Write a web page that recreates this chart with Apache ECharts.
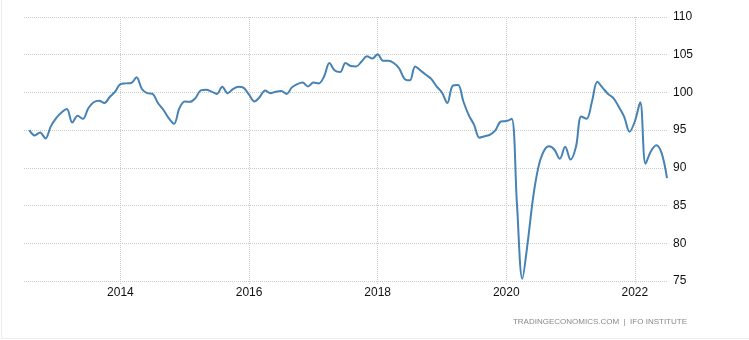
<!DOCTYPE html>
<html>
<head>
<meta charset="utf-8">
<script src="https://cdn.jsdelivr.net/npm/echarts@6/dist/echarts.min.js"></script>
<style>
html,body{margin:0;padding:0;background:#fff;}
#chart{width:749px;height:340px;}
</style>
</head>
<body>
<div id="chart"></div>
<script>
// Months from Jul 2012 to Jul 2022 (first month has no value)
var startYear = 2012, startMonth = 7, monthCount = 121;
var categories = [];
for (var i = 0; i < monthCount; i++) {
  var mm = startMonth - 1 + i;
  var y = startYear + Math.floor(mm / 12);
  var m = (mm % 12) + 1;
  categories.push(y + '-' + (m < 10 ? '0' + m : m));
}
var tickYears = ['2014', '2016', '2018', '2020', '2022'];
var yTicks = [75, 80, 85, 90, 95, 100, 105, 110];

var values2012 = [null, 95.0, 94.3, 94.7, 93.9, 95.5];
var values2013 = [96.6, 97.35, 97.8, 96.0, 96.9, 96.5, 97.9, 98.7, 98.9, 98.6, 99.4, 100.1];
var values2014 = [101.1, 101.2, 101.25, 102.0, 100.45, 99.9, 99.8, 98.6, 97.7, 96.6, 95.85, 97.9];
var values2015 = [98.8, 98.75, 99.25, 100.27, 100.35, 100.1, 99.8, 100.75, 99.9, 100.45, 100.75, 100.6];
var values2016 = [99.7, 98.8, 99.4, 100.27, 99.9, 100.1, 100.2, 99.8, 100.67, 101.1, 101.3, 100.8];
var values2017 = [101.3, 101.2, 102.1, 103.9, 102.9, 102.7, 103.9, 103.5, 103.45, 104.1, 104.8, 104.5];
var values2018 = [105.05, 104.2, 104.2, 103.9, 103.2, 101.8, 101.6, 103.45, 102.9, 102.35, 101.8, 100.8];
var values2019 = [100.0, 98.6, 100.9, 101.0, 98.8, 97.0, 95.7, 94.0, 94.2, 94.4, 95.0, 96.15];
var values2020 = [96.2, 96.5, 85.2, 75.3, 80.1, 86.0, 90.1, 92.2, 92.85, 92.4, 91.2, 92.8];
var values2021 = [91.1, 92.75, 96.8, 96.5, 98.8, 101.4, 100.6, 99.8, 99.25, 98.1, 96.8, 94.8];
var values2022 = [96.15, 98.7, 90.55, 92.2, 93.0, 91.95, 88.65];

var values = [].concat(values2012, values2013, values2014, values2015, values2016,
  values2017, values2018, values2019, values2020, values2021, values2022);

var sourceText = 'TRADINGECONOMICS.COM  |  IFO INSTITUTE';

function isTick(idx) {
  var c = categories[idx];
  return c.slice(5) === '01' && tickYears.indexOf(c.slice(0, 4)) >= 0;
}

var chart = echarts.init(document.getElementById('chart'), null, {renderer: 'canvas'});
chart.setOption({
  animation: false,
  backgroundColor: '#ffffff',
  grid: {left: 24, right: 82, top: 17, bottom: 59, containLabel: false},
  xAxis: {
    type: 'category',
    data: categories,
    boundaryGap: false,
    axisLine: {show: false},
    axisTick: {show: true, interval: function (i) { return isTick(i); }, length: 4,
      lineStyle: {color: '#cccccc', type: 'dotted'}},
    axisLabel: {
      interval: function (i) { return isTick(i); },
      formatter: function (v) { return v.slice(0, 4); },
      color: '#111', fontFamily: 'Liberation Sans, Arial, sans-serif', fontSize: 12, margin: 6
    },
    splitLine: {show: true, interval: function (i) { return isTick(i); },
      lineStyle: {color: '#cccccc', type: 'dotted', width: 1}}
  },
  yAxis: {
    type: 'value',
    position: 'right',
    min: yTicks[0], max: yTicks[yTicks.length - 1], interval: 5,
    axisLine: {show: false},
    axisTick: {show: false},
    axisLabel: {color: '#111', fontFamily: 'Liberation Sans, Arial, sans-serif', fontSize: 12, margin: 6},
    splitLine: {show: true, lineStyle: {color: '#cccccc', type: 'dotted', width: 1}}
  },
  series: [{
    type: 'line',
    data: values,
    smooth: 0.35,
    showSymbol: false,
    connectNulls: false,
    lineStyle: {color: '#4682b4', width: 2},
    itemStyle: {color: '#4682b4'}
  }],
  graphic: [
    {type: 'text', right: 62, top: 318, style: {text: sourceText, fill: '#888888',
      font: '8px "Liberation Sans", Arial, sans-serif'}},
    {type: 'line', shape: {x1: 1.5, y1: 0, x2: 1.5, y2: 338.5}, style: {stroke: '#ececec', lineWidth: 1}},
    {type: 'line', shape: {x1: 1.5, y1: 338.5, x2: 749, y2: 338.5}, style: {stroke: '#ececec', lineWidth: 1}}
  ]
});
</script>
</body>
</html>
